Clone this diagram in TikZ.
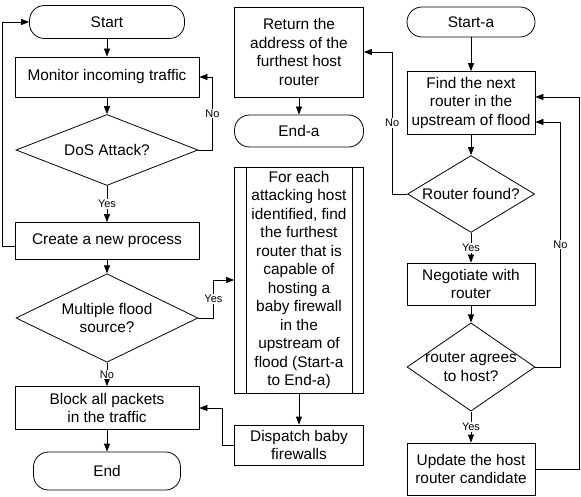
\documentclass[tikz,border=0pt]{standalone}
\usepackage{fontspec}
\setmainfont{Liberation Sans}
\usetikzlibrary{shapes.geometric,arrows.meta}
\begin{document}
\begin{tikzpicture}[x=1pt,y=-1pt]
        % styles
        \tikzstyle{box}=[draw, rectangle, line width=0.8pt, align=center, inner sep=2pt, font=\fontsize{15.4}{18.5}\selectfont]
        \tikzstyle{terminal}=[box, rounded corners=15pt]
        \tikzstyle{decision}=[box, diamond, inner sep=-8pt]
        \tikzstyle{answer}=[fill=white, inner sep=1pt, font=\fontsize{11}{13}\selectfont]
        \tikzstyle{flow}=[->, >={Triangle[length=8pt,width=6pt]}, line width=0.8pt]

        \useasboundingbox (0,0) rectangle (581,497);

        % main flow
        \node[terminal, minimum width=155pt, minimum height=33pt] (start) at (107,22) {Start};
        \node[box, minimum width=184pt, minimum height=40pt] (monitor) at (107,77) {Monitor incoming traffic};
        \node[decision, minimum width=182pt, minimum height=71pt] (dos) at (107,150) {DoS Attack?};
        \node[box, minimum width=184pt, minimum height=37pt] (create) at (107,241) {Create a new process};
        \node[decision, minimum width=182pt, minimum height=70pt] (multi) at (107,318) {Multiple flood\\source?};
        \node[box, minimum width=184pt, minimum height=43pt] (block) at (107,408) {Block all packets\\in the traffic};
        \node[terminal, minimum width=147pt, minimum height=38pt] (finish) at (107,471) {End};

        % middle column
        \node[box, minimum width=129pt, minimum height=90pt] (return) at (299,52) {Return the\\address of the\\furthest host\\router};
        \node[terminal, minimum width=129pt, minimum height=32pt] (enda) at (299,131) {End-a};
        \node[box, minimum width=129pt, minimum height=226pt] (foreach) at (299,280) {For each\\attacking host\\identified, find\\the furthest\\router that is\\capable of\\hosting a\\baby firewall\\in the\\upstream of\\flood (Start-a\\to End-a)};
        \draw[line width=0.8pt] ([xshift=12pt]foreach.north west) -- ([xshift=12pt]foreach.south west);
        \draw[line width=0.8pt] ([xshift=-12pt]foreach.north east) -- ([xshift=-12pt]foreach.south east);
        \node[box, minimum width=129pt, minimum height=40pt] (dispatch) at (299,445) {Dispatch baby\\firewalls};

        % sub flow
        \node[terminal, minimum width=128pt, minimum height=30pt] (starta) at (471,22) {Start-a};
        \node[box, minimum width=128pt, minimum height=63pt] (find) at (471,103) {Find the next\\router in the\\upstream of flood};
        \node[decision, minimum width=127pt, minimum height=62pt] (found) at (471,194) {Router found?};
        \node[box, minimum width=128pt, minimum height=42pt] (negotiate) at (471,284) {Negotiate with\\router};
        \node[decision, minimum width=128pt, minimum height=79pt] (agrees) at (471,367) {router agrees\\to host?};
        \node[box, minimum width=128pt, minimum height=52pt] (update) at (471,469) {Update the host\\router candidate};

        % connectors
        \draw[flow] (start) -- (monitor);
        \draw[flow] (monitor) -- (dos);
        \draw[flow] (dos) -- node[answer] {Yes} (create);
        \draw[flow] (dos.east) -- ++(14,0) |- node[answer, pos=0.25] {No} (monitor.east);
        \draw[flow] ([yshift=-5pt]create.west) -- ++(-12,0) |- (start.west);
        \draw[flow] (create) -- (multi);
        \draw[flow] (multi) -- node[answer] {No} (block);
        \draw[flow] (multi.east) -- ++(15,0) |- node[answer, pos=0.25] {Yes} (foreach.west);
        \draw[flow] (block) -- (finish);
        \draw[flow] (dispatch.west) -- ++(-12,0) |- (block.east);
        \draw[flow] (return) -- (enda);
        \draw[flow] (foreach) -- (dispatch);
        \draw[flow] (starta) -- (find);
        \draw[flow] (find) -- (found);
        \draw[flow] (found) -- node[answer] {Yes} (negotiate);
        \draw[flow] (found.west) -- ++(-15,0) |- node[answer, pos=0.25] {No} (return.east);
        \draw[flow] (negotiate) -- (agrees);
        \draw[flow] (agrees) -- node[answer] {Yes} (update);
        \draw[flow] (agrees.east) -- ++(25,0) |- node[answer, pos=0.25] {No} ([yshift=-19pt]find.east);
        \draw[flow] (update.east) -- ++(44,0) |- ([yshift=6pt]find.east);
\end{tikzpicture}
\end{document}
